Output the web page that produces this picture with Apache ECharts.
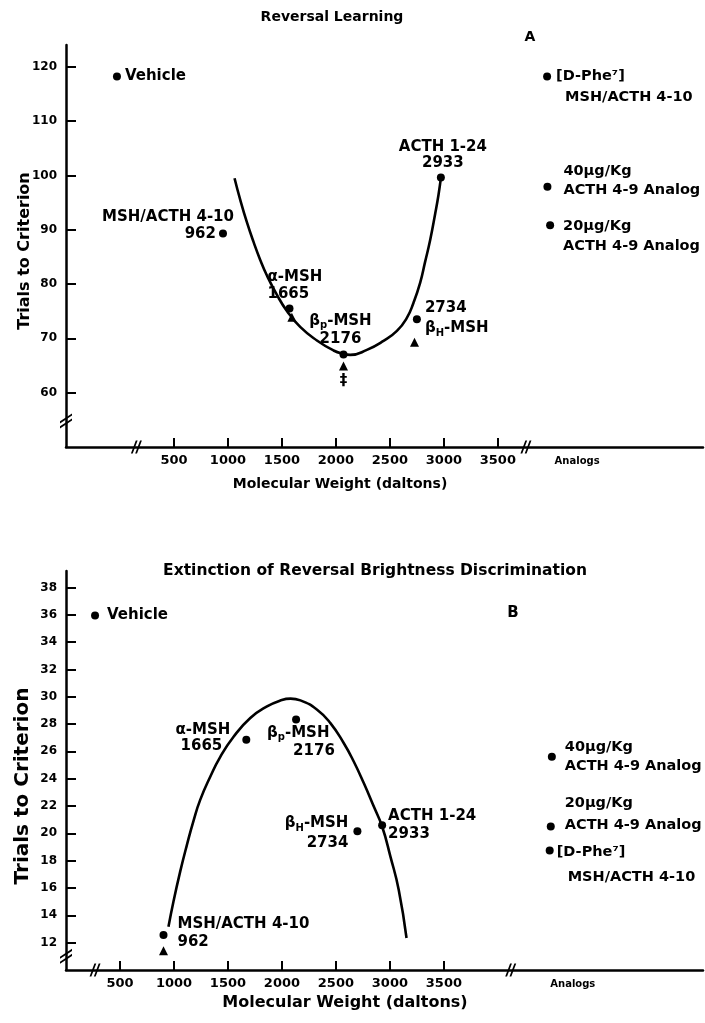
<!DOCTYPE html>
<html><head><meta charset="utf-8">
<script src="https://cdn.jsdelivr.net/npm/echarts@6/dist/echarts.min.js"></script>
<style>html,body{margin:0;padding:0;background:#fff}#c{width:705px;height:1023px}</style>
</head><body><div id="c"></div>
<script>
// ---------- data: panel A (Reversal Learning) ----------
const xTickValues = [500, 1000, 1500, 2000, 2500, 3000, 3500];
const yTicksA = [60, 70, 80, 90, 100, 110, 120];
const analogsLabelA = 4234;
// [id, molecular weight, trials]
const circlesA = [
  ['Vehicle', -28, 118.2],
  ['m962', 954, 89.3],
  ['m1665', 1570, 75.5],
  ['m2176', 2070, 67.05],
  ['m2734', 2750, 73.5],
  ['m2933', 2972, 99.6]
];
const trianglesA = [
  ['t1665', 1592, 73.9],
  ['dagger', 2070, 64.9],
  ['t2734', 2728, 69.3]
];
const analogsA = [
  ['dphe', 3956, 118.2],
  ['a40', 3959, 97.9],
  ['a20', 3984, 90.8]
];
const curveA = [
  [1061, 99.48], [1114, 95.49], [1176, 91.34], [1237, 87.75], [1299, 84.44], [1361, 81.58],
  [1454, 77.99], [1546, 75.05], [1669, 72.1], [1824, 69.61], [1978, 67.77], [2070, 67.13],
  [2132, 66.95], [2287, 67.87], [2441, 69.53], [2565, 71.37], [2657, 73.76], [2718, 76.52],
  [2780, 80.2], [2826, 84.07], [2873, 88.12], [2919, 92.9], [2950, 96.4], [2972, 99.48]
];
const xBreaksA = [[152, 50], [3760, 50]];
const yBreaksA = [[-500, 54.8]];
const textsA = {
  Vehicle: '{a|Vehicle}',
  m962: '{a|MSH/ACTH 4-10}\n{b|962}',
  m1665: '{a|α-MSH}\n{a|1665}',
  m2176: '{a|β}{s|p}{a|-MSH}\n{a|2176}',
  m2734: '{a|2734}\n{a|β}{s|H}{a|-MSH}',
  m2933: '{a|ACTH 1-24}\n{a|2933}',
  dagger: '{a|‡}',
  dphe: '{a|[D-Phe⁷]}\n{b|MSH/ACTH 4-10}',
  a40: '{a|40µg/Kg}\n{a|ACTH 4-9 Analog}',
  a20: '{a|20µg/Kg}\n{a|ACTH 4-9 Analog}'
};

// ---------- data: panel B (Extinction) ----------
const yTicksB = [12, 14, 16, 18, 20, 22, 24, 26, 28, 30, 32, 34, 36, 38];
const analogsLabelB = 4694;
const circlesB = [
  ['Vehicle', 269, 35.95],
  ['m962', 903, 12.56],
  ['m1665', 1670, 26.85],
  ['m2176', 2131, 28.34],
  ['m2734', 2699, 20.15],
  ['m2933', 2928, 20.6]
];
const trianglesB = [
  ['t962', 903, 11.4]
];
const analogsB = [
  ['a40', 4500, 25.6],
  ['a20', 4490, 20.5],
  ['dphe', 4480, 18.75]
];
const curveB = [
  [949, 13.17], [995, 15.0], [1057, 17.18], [1120, 19.16], [1181, 20.92], [1243, 22.45],
  [1336, 24.14], [1429, 25.6], [1552, 27.07], [1707, 28.44], [1862, 29.29], [1985, 29.72],
  [2080, 29.86], [2171, 29.73], [2326, 29.05], [2449, 28.07], [2572, 26.61], [2665, 25.26],
  [2758, 23.68], [2851, 21.96], [2928, 20.5], [3005, 18.3], [3082, 15.86], [3154, 12.34]
];
const xBreaksB = [[269, 10], [4119, 10]];
const yBreaksB = [[0, 11.0]];
const textsB = {
  Vehicle: '{a|Vehicle}',
  m962: '{a|MSH/ACTH 4-10}\n{a|962}',
  m1665: '{a|α-MSH}\n{b|1665}',
  m2176: '{a|β}{s|p}{a|-MSH}\n{b|2176}',
  m2734: '{a|β}{s|H}{a|-MSH}\n{a|2734}',
  m2933: '{a|ACTH 1-24}\n{a|2933}',
  a40: '{a|40µg/Kg}\n{a|ACTH 4-9 Analog}',
  a20: '{a|20µg/Kg}\n{a|ACTH 4-9 Analog}',
  dphe: '{a|[D-Phe⁷]}\n{b|MSH/ACTH 4-10}'
};

// ---------- label layout (offsets from marker, px) ----------
const layoutA = {
  Vehicle: {dx: 8, dy: 0, align: 'left', lh: 17},
  m962: {dx: 11, dy: -8, align: 'right', lh: 17, pad: [0, 18, 0, 0]},
  m1665: {dx: -22, dy: -23, align: 'left', lh: 17},
  m2176: {dx: -3, dy: -24, align: 'center', lh: 18},
  m2734: {dx: 8, dy: -1, align: 'left', lh: 20},
  m2933: {dx: 2, dy: -22, align: 'center', lh: 16},
  dagger: {dx: 0, dy: 15, align: 'center', lh: 14},
  dphe: {dx: 9, dy: 10.5, align: 'left', lh: 21, pad: [0, 0, 0, 9], fs: 14.5},
  a40: {dx: 16, dy: -6, align: 'left', lh: 19, fs: 14.5},
  a20: {dx: 13, dy: 11, align: 'left', lh: 20, fs: 14.5}
};
const layoutB = {
  Vehicle: {dx: 12, dy: 0, align: 'left', lh: 18},
  m962: {dx: 14, dy: -2, align: 'left', lh: 18},
  m1665: {dx: -16, dy: -2, align: 'right', lh: 16, pad: [0, 8, 0, 0]},
  m2176: {dx: -29, dy: 23, align: 'left', lh: 18, pad: [0, 0, 0, 26]},
  m2734: {dx: -9, dy: 2, align: 'right', lh: 20},
  m2933: {dx: 6, dy: 0, align: 'left', lh: 18},
  a40: {dx: 13, dy: 0, align: 'left', lh: 19, fs: 14.5},
  a20: {dx: 14, dy: -12, align: 'left', lh: 22, fs: 14.5},
  dphe: {dx: 7, dy: 14.5, align: 'left', lh: 25, pad: [0, 0, 0, 11], fs: 14.5}
};

const F = 'DejaVu Sans';
const INK = '#000';

function richFor(fs, L) {
  const base = {fontSize: fs, fontWeight: 'bold', fontFamily: F, color: INK, lineHeight: L.lh};
  return {
    a: base,
    b: Object.assign({}, base, {padding: L.pad || [0, 0, 0, 0]}),
    s: {fontSize: Math.round(fs * 0.66), fontWeight: 'bold', fontFamily: F, color: INK,
        lineHeight: Math.round(fs * 0.66), verticalAlign: 'bottom'}
  };
}
function labelFor(texts, layout, id, fs) {
  if (!texts[id]) return {show: false};
  const L = layout[id];
  return {
    show: true, position: 'inside', offset: [L.dx, L.dy],
    align: L.align, verticalAlign: 'middle', color: INK,
    formatter: texts[id], rich: richFor(L.fs || fs, L)
  };
}
function items(arr, texts, layout, fs) {
  return arr.map(([id, x, y]) => ({name: id, value: [x, y], label: labelFor(texts, layout, id, fs)}));
}

const BREAK_X = 'path://M0,20L8,0L11,0L3,20Z M7,20L15,0L18,0L10,20Z';
const BREAK_Y = 'path://M0,11L16,0L16,3L0,14Z M0,18L16,7L16,10L0,21Z';

function xAxisCfg(gi, min, max, analogX) {
  return {
    type: 'value', gridIndex: gi, min: min, max: max,
    axisLine: {show: true, onZero: false, lineStyle: {color: INK, width: 2.5}},
    axisTick: {show: true, inside: true, length: 9, customValues: xTickValues, lineStyle: {color: INK, width: 2}},
    axisLabel: {
      show: true, customValues: xTickValues.concat([analogX]), margin: 7,
      color: INK, fontFamily: F, fontWeight: 'bold', fontSize: 13,
      formatter: v => (v === analogX ? '{s|Analogs}' : String(v)),
      rich: {s: {fontSize: 10, fontWeight: 'bold', fontFamily: F, color: INK, padding: [2, 0, 0, 0]}}
    },
    splitLine: {show: false}
  };
}
function yAxisCfg(gi, min, max, ticks, fs) {
  return {
    type: 'value', gridIndex: gi, min: min, max: max,
    axisLine: {show: true, onZero: false, lineStyle: {color: INK, width: 2.5}},
    axisTick: {show: true, inside: true, length: 10, customValues: ticks, lineStyle: {color: INK, width: 2}},
    axisLabel: {show: true, customValues: ticks, margin: 9, color: INK, fontFamily: F, fontWeight: 'bold', fontSize: fs},
    splitLine: {show: false}
  };
}

function panelSeries(k, curve, circles, triangles, analogs, xb, yb, texts, layout, fs) {
  const common = {xAxisIndex: k, yAxisIndex: k, silent: true, animation: false};
  const mark = {color: INK, opacity: 1};
  return [
    Object.assign({type: 'line', data: curve, smooth: 0.5, showSymbol: false, symbol: 'none',
      lineStyle: {color: INK, width: 2.6, opacity: 1}, z: 2}, common),
    Object.assign({type: 'scatter', symbol: 'circle', symbolSize: 8, itemStyle: mark,
      data: items(circles, texts, layout, fs), z: 4}, common),
    Object.assign({type: 'scatter', symbol: 'triangle', symbolSize: 9, itemStyle: mark,
      data: items(triangles, texts, layout, fs), z: 4}, common),
    Object.assign({type: 'scatter', symbol: 'circle', symbolSize: 8, itemStyle: mark,
      data: items(analogs, texts, layout, fs), z: 4}, common),
    Object.assign({type: 'scatter', symbol: BREAK_X, symbolSize: [11, 13], itemStyle: mark,
      data: xb, z: 5}, common),
    Object.assign({type: 'scatter', symbol: BREAK_Y, symbolSize: [12, 15], itemStyle: mark,
      data: yb, z: 5}, common)
  ];
}

const chart = echarts.init(document.getElementById('c'), null, {renderer: 'canvas'});
chart.setOption({
  animation: false,
  backgroundColor: '#fff',
  grid: [
    {left: 66, right: 2, top: 45, height: 402},
    {left: 66, right: 2, top: 571, height: 399}
  ],
  xAxis: [xAxisCfg(0, -500, 5400, analogsLabelA), xAxisCfg(1, 0, 5900, analogsLabelB)],
  yAxis: [yAxisCfg(0, 50, 124, yTicksA, 12), yAxisCfg(1, 10, 39.2, yTicksB, 12)],
  series: [].concat(
    panelSeries(0, curveA, circlesA, trianglesA, analogsA, xBreaksA, yBreaksA, textsA, layoutA, 15),
    panelSeries(1, curveB, circlesB, trianglesB, analogsB, xBreaksB, yBreaksB, textsB, layoutB, 15)
  ),
  graphic: [
    {type: 'text', x: 332, y: 17, style: {text: 'Reversal Learning', font: 'bold 14px "DejaVu Sans"', fill: INK, textAlign: 'center', textVerticalAlign: 'middle'}},
    {type: 'text', x: 530, y: 37, style: {text: 'A', font: 'bold 14px "DejaVu Sans"', fill: INK, textAlign: 'center', textVerticalAlign: 'middle'}},
    {type: 'text', x: 25, y: 251, rotation: Math.PI / 2, style: {text: 'Trials to Criterion', font: 'bold 16px "DejaVu Sans"', fill: INK, textAlign: 'center', textVerticalAlign: 'middle'}},
    {type: 'text', x: 340, y: 484, style: {text: 'Molecular Weight (daltons)', font: 'bold 14px "DejaVu Sans"', fill: INK, textAlign: 'center', textVerticalAlign: 'middle'}},
    {type: 'text', x: 375, y: 571, style: {text: 'Extinction of Reversal Brightness Discrimination', font: 'bold 15.5px "DejaVu Sans"', fill: INK, textAlign: 'center', textVerticalAlign: 'middle'}},
    {type: 'text', x: 513, y: 613, style: {text: 'B', font: 'bold 15px "DejaVu Sans"', fill: INK, textAlign: 'center', textVerticalAlign: 'middle'}},
    {type: 'text', x: 23, y: 786, rotation: Math.PI / 2, style: {text: 'Trials to Criterion', font: 'bold 20px "DejaVu Sans"', fill: INK, textAlign: 'center', textVerticalAlign: 'middle'}},
    {type: 'text', x: 345, y: 1003, style: {text: 'Molecular Weight (daltons)', font: 'bold 16px "DejaVu Sans"', fill: INK, textAlign: 'center', textVerticalAlign: 'middle'}}
  ]
});
</script>
</body></html>
